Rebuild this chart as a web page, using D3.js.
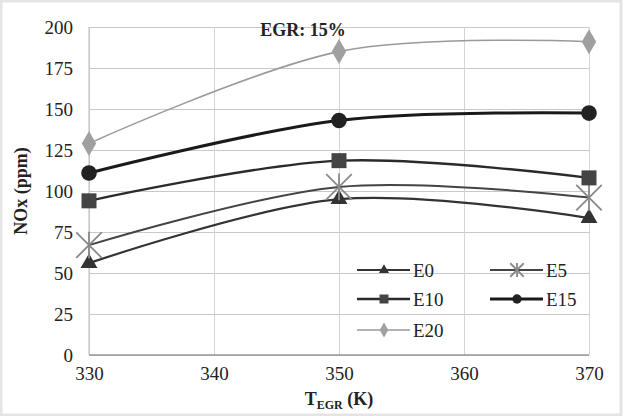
<!DOCTYPE html>
<html>
<head>
<meta charset="utf-8">
<script src="https://cdn.jsdelivr.net/npm/d3@7"></script>
<style>
  body { margin: 0; background: #fff; }
  svg { display: block; }
  svg text { font-family: 'Liberation Serif', 'Times New Roman', serif; }
  .preload { position: absolute; left: 0; top: 0; opacity: 0; font-family: 'Liberation Serif'; font-size: 18px; }
</style>
</head>
<body>
<div class="preload">EGR 0123456789 NOx<b>EGR 15% NOx (ppm) T (K)</b></div>
<svg id="chart"></svg>
<script>
// chart values
const temps = [330, 350, 370];
const e0 = [56, 95, 83.5];
const e5 = [67, 102.5, 96];
const e10 = [94, 118.5, 108];
const e15 = [111, 143, 147.5];
const e20 = [129, 185, 191];
const yTicks = [0, 25, 50, 75, 100, 125, 150, 175, 200];
const xTicks = [330, 340, 350, 360, 370];

const series = [
  {name: 'E0', values: e0, color: '#333', marker: '#333', width: 2.2, shape: 'triangle'},
  {name: 'E5', values: e5, color: '#444', marker: '#888', width: 2, shape: 'star'},
  {name: 'E10', values: e10, color: '#2a2a2a', marker: '#444', width: 2.4, shape: 'square'},
  {name: 'E15', values: e15, color: '#1a1a1a', marker: '#222', width: 3, shape: 'circle'},
  {name: 'E20', values: e20, color: '#999', marker: '#a0a0a0', width: 1.6, shape: 'diamond'}
];

const W = 624, H = 416;
const margin = {top: 27, right: 35, bottom: 61, left: 89};
const width = W - margin.left - margin.right;
const height = H - margin.top - margin.bottom;

const svg = d3.select('#chart').attr('width', W).attr('height', H);

// light frame like the scanned figure
svg.append('rect').attr('x', 1).attr('y', 1).attr('width', W - 4).attr('height', H - 2)
    .attr('fill', '#fff').attr('stroke', '#e4e4e4').attr('stroke-width', 3);

const chart = svg.append('g').attr('transform', `translate(${margin.left},${margin.top})`);

const x = d3.scaleLinear().domain([330, 370]).range([0, width]);
const y = d3.scaleLinear().domain([0, 200]).range([height, 0]);

// gridlines
chart.append('g')
    .call(d3.axisLeft(y).tickValues(yTicks).tickSize(-width).tickFormat(''))
    .call(g => g.select('.domain').remove())
    .call(g => g.selectAll('line').attr('stroke', '#c8c8c8').attr('stroke-width', 1));
chart.append('g')
    .attr('transform', `translate(0,${height})`)
    .call(d3.axisBottom(x).tickValues(xTicks).tickSize(-height).tickFormat(''))
    .call(g => g.select('.domain').remove())
    .call(g => g.selectAll('line').attr('stroke', '#d4d4d4').attr('stroke-width', 1));

// axis baselines
chart.append('line').attr('x1', 0).attr('x2', width).attr('y1', height).attr('y2', height)
    .attr('stroke', '#999').attr('stroke-width', 1.5);
chart.append('line').attr('x1', 0).attr('x2', 0).attr('y1', 0).attr('y2', height)
    .attr('stroke', '#bbb').attr('stroke-width', 1);

// tick labels
chart.append('g')
    .call(d3.axisLeft(y).tickValues(yTicks).tickSize(0).tickPadding(16))
    .call(g => g.select('.domain').remove())
    .attr('font-family', 'Liberation Serif').attr('font-size', 19)
    .selectAll('text').attr('fill', '#222');

chart.append('g')
    .attr('transform', `translate(0,${height})`)
    .call(d3.axisBottom(x).tickValues(xTicks).tickSize(0).tickPadding(12))
    .call(g => g.select('.domain').remove())
    .attr('font-family', 'Liberation Serif').attr('font-size', 19)
    .selectAll('text').attr('fill', '#222');

// lines (Excel-style smoothed)
const line = d3.line()
    .x((d, i) => x(temps[i]))
    .y(d => y(d))
    .curve(d3.curveCardinal.tension(0));

chart.append('g').selectAll('path')
    .data(series)
  .join('path')
    .attr('d', d => line(d.values))
    .attr('fill', 'none')
    .attr('stroke', d => d.color)
    .attr('stroke-width', d => d.width);

function drawMarker(g, shape, color, s) {
  if (shape === 'star') {
    const r = s * 0.75;
    [[-r, -r, r, r], [-r, r, r, -r], [0, -r * 1.05, 0, r * 1.05]].forEach(l => {
      g.append('line').attr('x1', l[0]).attr('y1', l[1]).attr('x2', l[2]).attr('y2', l[3])
          .attr('stroke', color).attr('stroke-width', 1.8);
    });
    return;
  }
  const sym = {triangle: d3.symbolTriangle, square: d3.symbolSquare, circle: d3.symbolCircle, diamond: d3.symbolDiamond}[shape];
  const area = {triangle: s * s * 0.55, square: s * s, circle: s * s * 0.85, diamond: s * s * 0.8}[shape];
  g.append('path').attr('d', d3.symbol(sym, area)()).attr('fill', color);
}

series.forEach(s => {
  s.values.forEach((v, i) => {
    const g = chart.append('g').attr('transform', `translate(${x(temps[i])},${y(v)})`);
    drawMarker(g, s.shape, s.marker, s.shape === 'star' ? 17 : 15);
  });
});

// legend
const legendPos = [[268, 243], [401, 243], [268, 272], [401, 272], [268, 303]];
series.forEach((s, i) => {
  const g = chart.append('g').attr('transform', `translate(${legendPos[i][0]},${legendPos[i][1]})`);
  g.append('line').attr('x1', 0).attr('x2', 53).attr('stroke', s.color).attr('stroke-width', s.width);
  const m = g.append('g').attr('transform', 'translate(27,0)');
  drawMarker(m, s.shape, s.marker, 9);
  g.append('text').attr('x', 56).attr('dy', '0.35em')
      .attr('font-size', 19).attr('fill', '#222').text(s.name);
});

// title inside plot
chart.append('text')
    .attr('x', 214).attr('y', 9)
    .attr('text-anchor', 'middle')
    .attr('font-size', 18).attr('font-weight', 'bold').attr('fill', '#222')
    .text('EGR: 15%');

// axis titles
svg.append('text')
    .attr('transform', `translate(27,${margin.top + height / 2}) rotate(-90)`)
    .attr('text-anchor', 'middle')
    .attr('font-size', 18).attr('font-weight', 'bold').attr('fill', '#222')
    .text('NOx (ppm)');

const xt = svg.append('text')
    .attr('x', margin.left + width / 2).attr('y', 405)
    .attr('text-anchor', 'middle')
    .attr('font-size', 18).attr('font-weight', 'bold').attr('fill', '#222');
xt.append('tspan').text('T');
xt.append('tspan').attr('dy', 4).attr('font-size', 12).text('EGR');
xt.append('tspan').attr('dy', -4).text(' (K)');
</script>
</body>
</html>
